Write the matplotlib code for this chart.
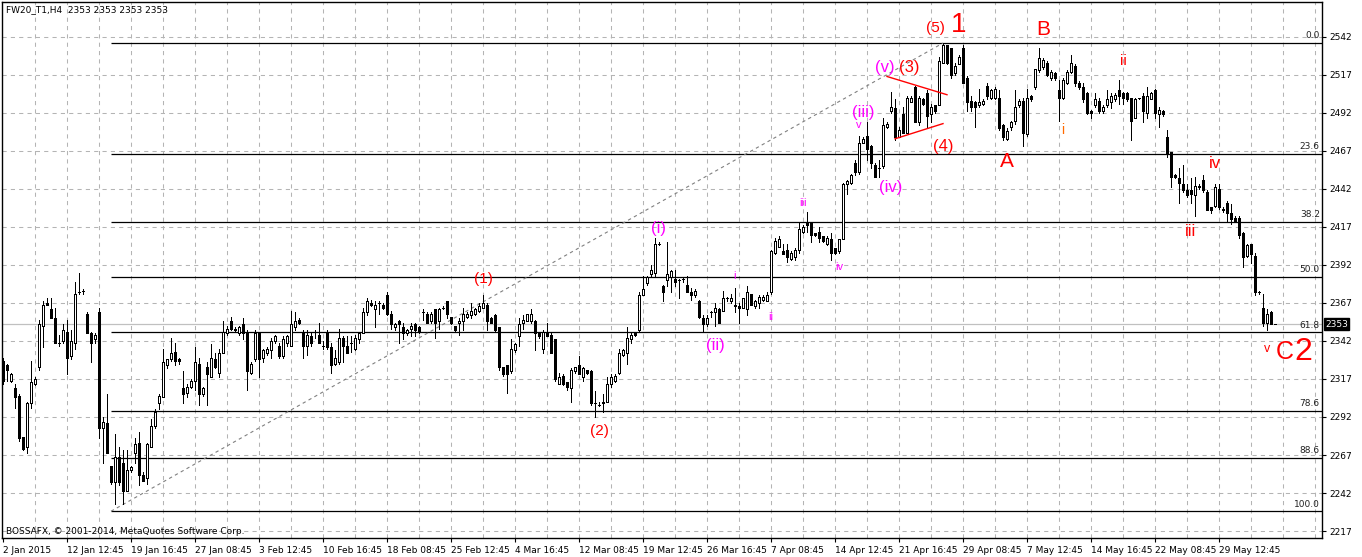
import numpy as np
import matplotlib.pyplot as plt

# H4 candles, one entry per bar (bar 0 = 2 Jan 2015)
opens = [
    2329, 2326, 2316, 2311, 2306, 2279, 2272, 2301, 2314, 2325,
    2352, 2367, 2363, 2357, 2341, 2342, 2348, 2332, 2341, 2374,
    2375, 2360, 2347, 2343, 2361, 2285, 2288, 2260, 2249, 2266,
    2262, 2243, 2257, 2268, 2275, 2254, 2252, 2272, 2286, 2301,
    2305, 2326, 2330, 2335, 2330, 2311, 2308, 2312, 2316, 2327,
    2307, 2325, 2318, 2330, 2321, 2334, 2347, 2355, 2350, 2347,
    2353, 2347, 2321, 2330, 2347, 2331, 2334, 2336, 2342, 2339,
    2332, 2341, 2339, 2351, 2356, 2347, 2339, 2345, 2348, 2346,
    2339, 2347, 2338, 2327, 2328, 2344, 2339, 2341, 2337, 2343,
    2347, 2361, 2367, 2363, 2367, 2366, 2372, 2360, 2351, 2355,
    2351, 2347, 2350, 2353, 2351, 2361, 2360, 2355, 2363, 2355,
    2364, 2368, 2358, 2352, 2354, 2355, 2358, 2359, 2360, 2362,
    2364, 2366, 2357, 2359, 2351, 2325, 2326, 2322, 2336, 2345,
    2354, 2355, 2355, 2355, 2348, 2337, 2348, 2346, 2343, 2314,
    2319, 2315, 2311, 2322, 2326, 2318, 2323, 2322, 2301, 2300,
    2302, 2302, 2314, 2316, 2321, 2333, 2334, 2343, 2347, 2349,
    2372, 2380, 2386, 2387, 2406, 2378, 2382, 2384, 2383, 2382,
    2383, 2379, 2374, 2372, 2368, 2357, 2353, 2361, 2361, 2363,
    2362, 2370, 2368, 2366, 2365, 2364, 2363, 2373, 2365, 2367,
    2369, 2368, 2374, 2400, 2404, 2401, 2402, 2396, 2397, 2402,
    2414, 2420, 2420, 2413, 2414, 2411, 2406, 2409, 2403, 2401,
    2409, 2445, 2446, 2459, 2453, 2472, 2477, 2470, 2458, 2456,
    2457, 2483, 2493, 2495, 2476, 2491, 2479, 2499, 2509, 2486,
    2501, 2505, 2491, 2497, 2497, 2525, 2537, 2535, 2518, 2524,
    2535, 2515, 2500, 2499, 2497, 2498, 2510, 2502, 2502, 2502,
    2484, 2475, 2483, 2487, 2497, 2500, 2478, 2503, 2509, 2520,
    2522, 2525, 2515, 2518, 2507, 2502, 2512, 2519, 2523, 2512,
    2509, 2505, 2493, 2497, 2500, 2493, 2497, 2499, 2501, 2507,
    2505, 2505, 2502, 2489, 2502, 2503, 2492, 2501, 2507, 2491,
    2493, 2476, 2466, 2451, 2449, 2445, 2441, 2441, 2438, 2444,
    2448, 2440, 2430, 2431, 2442, 2429, 2433, 2426, 2423, 2423,
    2413, 2398, 2406, 2398, 2374, 2364, 2354, 2361, 2353,
]
highs = [
    2331, 2327, 2321, 2314, 2307, 2279, 2302, 2329, 2318, 2356,
    2368, 2370, 2370, 2364, 2346, 2353, 2356, 2349, 2381, 2387,
    2376, 2361, 2348, 2347, 2364, 2292, 2307, 2260, 2281, 2272,
    2270, 2270, 2260, 2278, 2282, 2256, 2275, 2291, 2297, 2307,
    2337, 2330, 2344, 2341, 2331, 2322, 2314, 2317, 2338, 2331,
    2312, 2328, 2340, 2334, 2337, 2355, 2352, 2358, 2351, 2352,
    2357, 2349, 2328, 2349, 2347, 2337, 2338, 2344, 2346, 2341,
    2345, 2346, 2362, 2361, 2357, 2349, 2349, 2347, 2349, 2354,
    2342, 2349, 2341, 2336, 2350, 2345, 2345, 2345, 2346, 2348,
    2364, 2370, 2369, 2368, 2368, 2367, 2374, 2362, 2354, 2356,
    2354, 2350, 2354, 2354, 2352, 2363, 2361, 2361, 2363, 2364,
    2365, 2368, 2358, 2352, 2357, 2364, 2361, 2367, 2364, 2367,
    2372, 2367, 2358, 2360, 2351, 2325, 2326, 2343, 2341, 2357,
    2359, 2360, 2363, 2356, 2348, 2349, 2354, 2347, 2343, 2321,
    2320, 2315, 2324, 2325, 2332, 2325, 2323, 2323, 2309, 2302,
    2307, 2318, 2320, 2320, 2337, 2337, 2351, 2347, 2348, 2374,
    2385, 2385, 2392, 2410, 2407, 2379, 2407, 2389, 2389, 2383,
    2384, 2385, 2377, 2376, 2369, 2359, 2359, 2362, 2367, 2364,
    2375, 2371, 2373, 2377, 2367, 2370, 2378, 2373, 2369, 2372,
    2372, 2374, 2402, 2410, 2411, 2406, 2406, 2401, 2403, 2420,
    2418, 2427, 2420, 2413, 2417, 2411, 2411, 2413, 2403, 2409,
    2446, 2448, 2452, 2461, 2477, 2476, 2486, 2471, 2459, 2461,
    2489, 2486, 2506, 2501, 2483, 2496, 2503, 2503, 2510, 2503,
    2502, 2507, 2498, 2497, 2529, 2538, 2537, 2535, 2525, 2530,
    2537, 2516, 2503, 2500, 2508, 2501, 2512, 2508, 2509, 2507,
    2485, 2482, 2487, 2507, 2501, 2502, 2508, 2504, 2521, 2535,
    2528, 2526, 2520, 2519, 2514, 2515, 2520, 2530, 2524, 2513,
    2512, 2506, 2494, 2505, 2502, 2497, 2507, 2505, 2505, 2514,
    2506, 2506, 2502, 2502, 2502, 2505, 2509, 2506, 2508, 2496,
    2494, 2481, 2466, 2452, 2456, 2458, 2445, 2449, 2450, 2445,
    2451, 2441, 2430, 2445, 2445, 2430, 2434, 2432, 2424, 2424,
    2414, 2406, 2406, 2400, 2375, 2373, 2363, 2362, 2353,
]
lows = [
    2314, 2316, 2315, 2298, 2276, 2270, 2268, 2298, 2313, 2323,
    2338, 2366, 2357, 2341, 2339, 2341, 2320, 2330, 2337, 2373,
    2373, 2347, 2328, 2341, 2278, 2262, 2268, 2248, 2235, 2247,
    2235, 2243, 2256, 2262, 2247, 2250, 2248, 2272, 2285, 2297,
    2305, 2324, 2329, 2326, 2327, 2301, 2305, 2311, 2310, 2300,
    2306, 2300, 2318, 2324, 2318, 2334, 2346, 2349, 2348, 2346,
    2343, 2310, 2320, 2329, 2318, 2328, 2333, 2331, 2341, 2331,
    2331, 2339, 2339, 2349, 2353, 2331, 2333, 2339, 2344, 2341,
    2337, 2337, 2321, 2326, 2327, 2328, 2334, 2335, 2336, 2341,
    2347, 2359, 2365, 2351, 2360, 2363, 2359, 2350, 2349, 2341,
    2343, 2346, 2345, 2345, 2347, 2356, 2354, 2354, 2344, 2350,
    2363, 2357, 2353, 2348, 2346, 2349, 2357, 2357, 2359, 2361,
    2364, 2349, 2354, 2348, 2323, 2319, 2308, 2321, 2335, 2339,
    2350, 2355, 2354, 2336, 2344, 2334, 2345, 2334, 2316, 2314,
    2313, 2310, 2302, 2321, 2320, 2316, 2320, 2300, 2292, 2299,
    2295, 2302, 2312, 2315, 2320, 2332, 2327, 2341, 2345, 2348,
    2372, 2379, 2384, 2384, 2405, 2368, 2378, 2374, 2378, 2370,
    2381, 2374, 2369, 2371, 2357, 2348, 2352, 2358, 2352, 2354,
    2362, 2368, 2367, 2361, 2354, 2364, 2359, 2366, 2364, 2364,
    2368, 2368, 2373, 2399, 2404, 2399, 2394, 2395, 2395, 2400,
    2413, 2414, 2407, 2411, 2407, 2407, 2405, 2395, 2399, 2400,
    2409, 2439, 2445, 2451, 2452, 2472, 2461, 2456, 2450, 2450,
    2456, 2482, 2492, 2474, 2476, 2479, 2479, 2499, 2486, 2484,
    2497, 2483, 2486, 2492, 2497, 2525, 2524, 2515, 2517, 2524,
    2512, 2493, 2493, 2483, 2496, 2497, 2501, 2501, 2501, 2481,
    2474, 2474, 2481, 2485, 2496, 2470, 2477, 2500, 2508, 2519,
    2521, 2516, 2514, 2514, 2487, 2501, 2511, 2518, 2510, 2508,
    2499, 2491, 2489, 2496, 2492, 2492, 2496, 2495, 2500, 2498,
    2498, 2500, 2474, 2489, 2501, 2486, 2489, 2501, 2489, 2483,
    2490, 2463, 2443, 2449, 2433, 2440, 2437, 2433, 2424, 2442,
    2440, 2428, 2426, 2430, 2429, 2427, 2420, 2419, 2420, 2410,
    2391, 2397, 2393, 2372, 2373, 2352, 2349, 2353, 2353,
]
closes = [
    2316, 2323, 2320, 2305, 2278, 2271, 2301, 2315, 2317, 2353,
    2366, 2366, 2357, 2341, 2341, 2349, 2331, 2342, 2373, 2374,
    2375, 2347, 2341, 2346, 2285, 2289, 2268, 2249, 2266, 2249,
    2243, 2257, 2259, 2274, 2254, 2250, 2274, 2286, 2295, 2306,
    2328, 2330, 2334, 2329, 2329, 2307, 2312, 2316, 2328, 2307,
    2311, 2320, 2331, 2325, 2334, 2348, 2350, 2350, 2349, 2351,
    2347, 2322, 2327, 2347, 2330, 2336, 2337, 2342, 2345, 2332,
    2343, 2345, 2353, 2355, 2354, 2339, 2346, 2341, 2348, 2341,
    2339, 2338, 2326, 2331, 2344, 2339, 2334, 2341, 2344, 2347,
    2361, 2368, 2366, 2366, 2367, 2364, 2360, 2353, 2353, 2353,
    2347, 2349, 2352, 2349, 2348, 2361, 2354, 2360, 2354, 2363,
    2364, 2360, 2354, 2349, 2355, 2360, 2360, 2362, 2363, 2365,
    2367, 2355, 2354, 2349, 2325, 2320, 2320, 2337, 2340, 2353,
    2356, 2360, 2360, 2347, 2345, 2348, 2345, 2334, 2317, 2318,
    2314, 2312, 2323, 2325, 2320, 2324, 2321, 2301, 2301, 2300,
    2301, 2314, 2318, 2319, 2334, 2336, 2344, 2346, 2346, 2372,
    2376, 2384, 2389, 2406, 2406, 2374, 2386, 2388, 2381, 2382,
    2383, 2374, 2372, 2375, 2358, 2353, 2357, 2361, 2364, 2354,
    2370, 2370, 2370, 2365, 2364, 2370, 2374, 2366, 2368, 2371,
    2371, 2372, 2401, 2408, 2409, 2399, 2397, 2400, 2402, 2416,
    2417, 2418, 2412, 2412, 2410, 2408, 2410, 2400, 2400, 2409,
    2445, 2447, 2451, 2453, 2472, 2475, 2468, 2459, 2450, 2456,
    2484, 2485, 2496, 2476, 2481, 2479, 2502, 2502, 2486, 2502,
    2498, 2490, 2496, 2493, 2526, 2537, 2525, 2517, 2523, 2529,
    2512, 2499, 2496, 2496, 2499, 2500, 2503, 2507, 2508, 2482,
    2476, 2480, 2486, 2496, 2500, 2479, 2502, 2501, 2521, 2528,
    2527, 2517, 2519, 2515, 2502, 2514, 2519, 2525, 2512, 2509,
    2501, 2492, 2492, 2501, 2493, 2496, 2501, 2503, 2504, 2503,
    2502, 2501, 2487, 2501, 2502, 2493, 2503, 2505, 2492, 2494,
    2491, 2465, 2450, 2450, 2446, 2441, 2438, 2439, 2444, 2443,
    2441, 2428, 2428, 2443, 2430, 2428, 2426, 2422, 2421, 2412,
    2397, 2405, 2399, 2374, 2374, 2354, 2360, 2353, 2353,
]

# time axis labels (every 16 bars)
date_bars = list(range(0, 305, 16))
date_labels = ["2 Jan 2015", "12 Jan 12:45", "19 Jan 16:45", "27 Jan 08:45",
               "3 Feb 12:45", "10 Feb 16:45", "18 Feb 08:45", "25 Feb 12:45",
               "4 Mar 16:45", "12 Mar 08:45", "19 Mar 12:45", "26 Mar 16:45",
               "7 Apr 08:45", "14 Apr 12:45", "21 Apr 16:45", "29 Apr 08:45",
               "7 May 12:45", "14 May 16:45", "22 May 08:45", "29 May 12:45"]
price_ticks = list(range(2217, 2543, 25))
last_price = 2353

# fibonacci retracement anchors (bar, price)
fib_start = (27, 2230)
fib_end = (235, 2538)
fib_levels = [0.0, 23.6, 38.2, 50.0, 61.8, 78.6, 88.6, 100.0]

# triangle trendlines (bar, price)
tri_upper = [(221, 2516), (236, 2504)]
tri_lower = [(223, 2475), (235, 2485)]

# wave labels: text, bar, price, size, colour
RED, MAG, ORG = "#ff0000", "#ff00ff", "#ff6a00"
wave_labels = [
    ("(5)", 233, 2548, 11, RED), ("1", 239, 2550, 20, RED),
    ("B", 260, 2547, 15, RED), ("ii", 280, 2526, 11, RED),
    ("(4)", 235, 2470, 12, RED), ("A", 251, 2460, 15, RED),
    ("i", 265, 2481, 10, ORG), ("iv", 303, 2459, 12, RED),
    ("iii", 297, 2414, 12, RED), ("v", 316, 2337, 9, RED),
    ("C", 320.5, 2335, 18, RED), ("2", 325.2, 2335, 23, RED),
    ("(1)", 120, 2383, 11, RED), ("(2)", 149, 2283, 11, RED),
    ("(3)", 226.5, 2522, 12, RED), ("(v)", 220.5, 2522, 12, MAG),
    ("(iii)", 215, 2492, 12, MAG), ("v", 214, 2484, 8, MAG),
    ("(iv)", 222, 2443, 12, MAG), ("(i)", 164, 2416, 12, MAG),
    ("(ii)", 178, 2339, 12, MAG), ("iii", 200, 2433, 8, MAG),
    ("iv", 209, 2391, 8, MAG), ("i", 183, 2385, 8, MAG),
    ("ii", 192, 2358, 8, MAG),
]

W, H = 1362, 557
fig = plt.figure(figsize=(W / 100, H / 100), dpi=100)
fig.patch.set_facecolor("white")
ax = fig.add_axes([2 / W, 19 / H, 1320 / W, 536 / H])
ax.set_xlim(-0.25, 329.75)
ax.set_ylim(2212.4, 2565.0)

o = np.array(opens, float)
h = np.array(highs, float)
l = np.array(lows, float)
c = np.array(closes, float)
x = np.arange(len(c))

# grid
for gx in range(8, 330, 8):
    ax.axvline(gx, color="#b4b4b4", lw=0.75, ls=(0, (4, 4)), zorder=0)
for gy in price_ticks:
    ax.axhline(gy, color="#b4b4b4", lw=0.75, ls=(0, (4, 4)), zorder=0)

# current price line
ax.axhline(last_price, color="#c0c0c0", lw=0.9, zorder=1)

# fibonacci
f_hi, f_lo = fib_end[1], fib_start[1]
for lev in fib_levels:
    p = f_hi - lev / 100 * (f_hi - f_lo)
    ax.plot([fib_start[0], 329.75], [p, p], color="black", lw=0.9,
            zorder=2, solid_capstyle="butt")
    ax.text(329.2, p + 1.8, f"{lev:.1f}", ha="right", va="bottom",
            fontsize=6.5, color="#222222", zorder=5)
ax.plot([fib_start[0], fib_end[0]], [fib_start[1], fib_end[1]],
        color="#808080", lw=0.8, ls=(0, (3, 3)), zorder=2)

# triangle
for seg in (tri_upper, tri_lower):
    ax.plot([seg[0][0], seg[1][0]], [seg[0][1], seg[1][1]],
            color="#ff0000", lw=1.0, zorder=4)

# candles
top = np.maximum(h, np.maximum(o, c))
bot = np.minimum(l, np.minimum(o, c))
ax.vlines(x, bot, top, colors="black", lw=0.72, zorder=3, antialiased=False)
fills = ["white" if cc > oo else "black" for oo, cc in zip(o, c)]
ax.bar(x, np.abs(c - o), bottom=np.minimum(o, c), width=0.6,
       color=fills, edgecolor="black", linewidth=0.72, zorder=3,
       antialiased=False)

# wave labels
for txt, bx, py, fs, col in wave_labels:
    ax.text(bx, py, txt, ha="center", va="center", fontsize=fs, color=col,
            family="Liberation Sans", zorder=6)

# axes styling
for s in ax.spines.values():
    s.set_color("black")
    s.set_linewidth(1.0)
ax.yaxis.tick_right()
ax.set_yticks(price_ticks)
ax.set_yticklabels([str(t) for t in price_ticks])
ax.set_xticks(date_bars)
ax.set_xticklabels(date_labels, ha="left")
ax.tick_params(axis="both", labelsize=6.5, length=3, width=0.8,
               color="black", labelcolor="black")
ax.tick_params(axis="x", pad=3)
ax.tick_params(axis="y", pad=2)

# last price box
ax.text(1.0 + 3 / 1320, last_price, str(last_price),
        transform=ax.get_yaxis_transform(), ha="left", va="center",
        fontsize=6.5, color="white", zorder=10, clip_on=False,
        bbox=dict(boxstyle="square,pad=0.15", fc="black", ec="black"))

fig.text(6 / W, 1 - 10 / H, "FW20_T1,H4  2353 2353 2353 2353",
         fontsize=6.5, va="center", ha="left", color="black")
fig.text(6 / W, 1 - 532 / H, "BOSSAFX, \u00a9 2001-2014, MetaQuotes Software Corp.",
         fontsize=6.5, va="center", ha="left", color="black")

fig.savefig("out.png", dpi=100)
